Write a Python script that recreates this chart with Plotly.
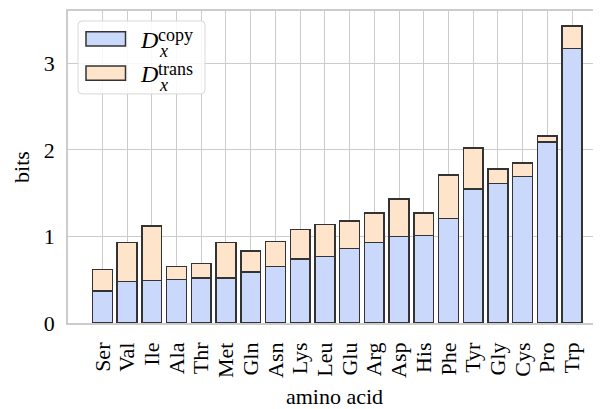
import plotly.graph_objects as go

amino_acids = ["Ser", "Val", "Ile", "Ala", "Thr", "Met", "Gln", "Asn", "Lys", "Leu",
               "Glu", "Arg", "Asp", "His", "Phe", "Tyr", "Gly", "Cys", "Pro", "Trp"]
d_copy = [0.37, 0.48, 0.49, 0.50, 0.52, 0.52, 0.59, 0.65, 0.74, 0.77,
          0.86, 0.93, 1.00, 1.01, 1.21, 1.55, 1.61, 1.69, 2.09, 3.17]
d_total = [0.62, 0.93, 1.12, 0.65, 0.69, 0.93, 0.83, 0.94, 1.08, 1.14,
           1.18, 1.27, 1.43, 1.27, 1.71, 2.02, 1.78, 1.85, 2.16, 3.43]
d_trans = [round(t - c, 3) for t, c in zip(d_total, d_copy)]
y_ticks = [0, 1, 2, 3]

# page offset from default body margin
OFF = 8
W, H = 601 - OFF, 409 - OFF
# target page pixels of plot area: left 68, top 11, right 601, bottom 323.3
L, T = 68 - OFF, 11 - OFF
R = 0
B = H - (323.3 - OFF)
PW, PH = W - L - R, H - T - B

def px(x):
    # page pixel x -> paper fraction
    return (x - OFF - L) / PW

def py(y):
    return (H - B - (y - OFF)) / PH

blue = "#cad8fc"
peach = "#fee4cb"
edge = "#333333"
grid = "#cccccc"
FONT = "Liberation Serif"
FS = 22

fig = go.Figure()
fig.add_trace(go.Bar(x=amino_acids, y=d_copy, name="D_x^copy", width=0.8,
                     marker=dict(color=blue, line=dict(color=edge, width=1.5))))
fig.add_trace(go.Bar(x=amino_acids, y=d_trans, name="D_x^trans", width=0.8,
                     marker=dict(color=peach, line=dict(color=edge, width=1.5))))

# manual legend
shapes = []
x0, x1, y0, y1, r = 78, 205, 21, 94, 4
path = (f"M{px(x0 + r)},{py(y0)} L{px(x1 - r)},{py(y0)} Q{px(x1)},{py(y0)} {px(x1)},{py(y0 + r)} "
        f"L{px(x1)},{py(y1 - r)} Q{px(x1)},{py(y1)} {px(x1 - r)},{py(y1)} "
        f"L{px(x0 + r)},{py(y1)} Q{px(x0)},{py(y1)} {px(x0)},{py(y1 - r)} "
        f"L{px(x0)},{py(y0 + r)} Q{px(x0)},{py(y0)} {px(x0 + r)},{py(y0)} Z")
shapes.append(dict(type="path", xref="paper", yref="paper", path=path,
                   fillcolor="rgba(255,255,255,0.85)", line=dict(color="#d8d8d8", width=1)))
for (sy0, sy1, col) in [(31.7, 46, blue), (66, 80.3, peach)]:
    shapes.append(dict(type="rect", xref="paper", yref="paper",
                       x0=px(86), x1=px(125.5), y0=py(sy1), y1=py(sy0),
                       fillcolor=col, line=dict(color=edge, width=1.5)))

annotations = []
for dy, sup in [(0, "copy"), (34.3, "trans")]:
    annotations.append(dict(text="<i>D</i>", xref="paper", yref="paper", x=px(138), y=py(40 + dy),
                            xanchor="left", yanchor="middle", showarrow=False,
                            font=dict(family=FONT, size=24, color="black")))
    annotations.append(dict(text=sup, xref="paper", yref="paper", x=px(156), y=py(35 + dy),
                            xanchor="left", yanchor="middle", showarrow=False,
                            font=dict(family=FONT, size=18, color="black")))
    annotations.append(dict(text="<i>x</i>", xref="paper", yref="paper", x=px(156.5), y=py(51 + dy),
                            xanchor="left", yanchor="middle", showarrow=False,
                            font=dict(family=FONT, size=18, color="black")))

fig.update_layout(
    width=W, height=H, barmode="stack", showlegend=False,
    margin=dict(l=L, r=R, t=T, b=B, pad=0),
    paper_bgcolor="white", plot_bgcolor="white",
    font=dict(family=FONT, size=FS, color="black"),
    shapes=shapes, annotations=annotations,
    xaxis=dict(range=[-1.39, 20.17], showgrid=True, gridcolor=grid, gridwidth=1.2,
               showline=True, linecolor=grid, linewidth=1.5, mirror=True,
               tickmode="array", tickvals=amino_acids, ticktext=amino_acids,
               ticks="", tickangle=-90, ticklabelstandoff=9, automargin=False,
               title=dict(text="amino acid", standoff=12, font=dict(size=FS))),
    yaxis=dict(range=[0, 3.604], tickvals=y_ticks, showgrid=True, gridcolor=grid, gridwidth=1.2,
               showline=True, linecolor=grid, linewidth=1.5, zeroline=False,
               ticks="", ticklabelstandoff=7, automargin=False,
               title=dict(text="bits", standoff=8, font=dict(size=FS))),
)

fig.write_html("out.html")
